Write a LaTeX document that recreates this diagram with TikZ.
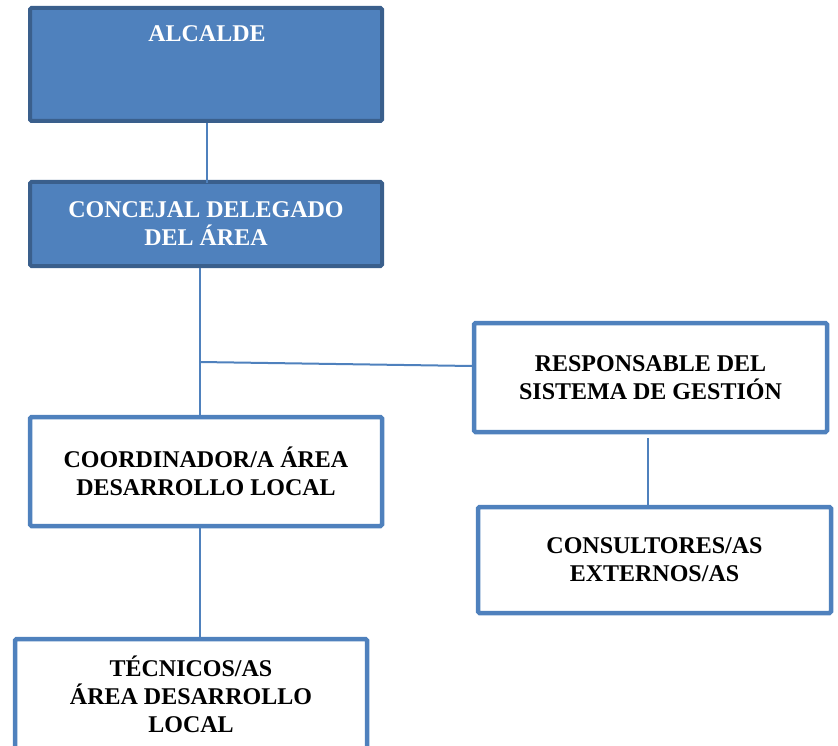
\documentclass[tikz,border=0pt]{standalone}
\usepackage{fontspec}
\setmainfont{Liberation Serif}
\definecolor{boxblue}{HTML}{4F81BD}
\definecolor{boxdark}{HTML}{3A5F8C}
\tikzset{
  bluebox/.style={draw=boxdark, fill=boxblue, line width=4pt, rounded corners=1.5pt, inner sep=0pt, align=center, text=white, font=\fontsize{24}{28}\selectfont\bfseries},
  whitebox/.style={draw=boxblue, fill=white, line width=4.5pt, rounded corners=1.5pt, inner sep=0pt, align=center, text=black, font=\fontsize{24}{28}\selectfont\bfseries},
  conn/.style={draw=boxblue, line width=2pt},
  wtext/.style={inner sep=0pt, text=white, font=\fontsize{24}{28}\selectfont\bfseries}
}
\begin{document}
\begin{tikzpicture}[x=1pt,y=-1pt]
\useasboundingbox (0,0) rectangle (838,746);
\clip (0,0) rectangle (838,746);
% boxes
\node[bluebox, minimum width=352pt, minimum height=113pt] (alc) at (206,64.5) {};
\node[wtext, anchor=base] (alct) at (207,42) {ALCALDE};
\node[bluebox, minimum width=352pt, minimum height=84pt] (conc) at (206,224) {CONCEJAL DELEGADO\\DEL ÁREA};
\node[whitebox, minimum width=353pt, minimum height=109pt] (resp) at (650.5,377.5) {RESPONSABLE DEL\\SISTEMA DE GESTIÓN};
\node[whitebox, minimum width=353pt, minimum height=106pt] (cons) at (654.5,560) {CONSULTORES/AS\\EXTERNOS/AS};
\node[whitebox, minimum width=352pt, minimum height=109pt] (coord) at (206,471.5) {COORDINADOR/A ÁREA\\DESARROLLO LOCAL};
\node[whitebox, minimum width=352pt, minimum height=111pt] (tec) at (191,694.5) {TÉCNICOS/AS\\ÁREA DESARROLLO\\LOCAL};
% connectors
\coordinate (j) at (200,362);
\coordinate (jr) at (472,366);
\coordinate (va) at (207,0);
\coordinate (vr) at (648,0);
\draw[conn] (alc.south -| va) -- ([yshift=-3pt]conc.north -| va);
\draw[conn] (conc.south -| j) -- (coord.north -| j);
\draw[conn] (j) -- (jr);
\draw[conn] (resp.south -| vr) ++(0,4) -- ([yshift=-3pt]cons.north -| vr);
\draw[conn] (coord.south -| j) -- (tec.north -| j);
\end{tikzpicture}
\end{document}
